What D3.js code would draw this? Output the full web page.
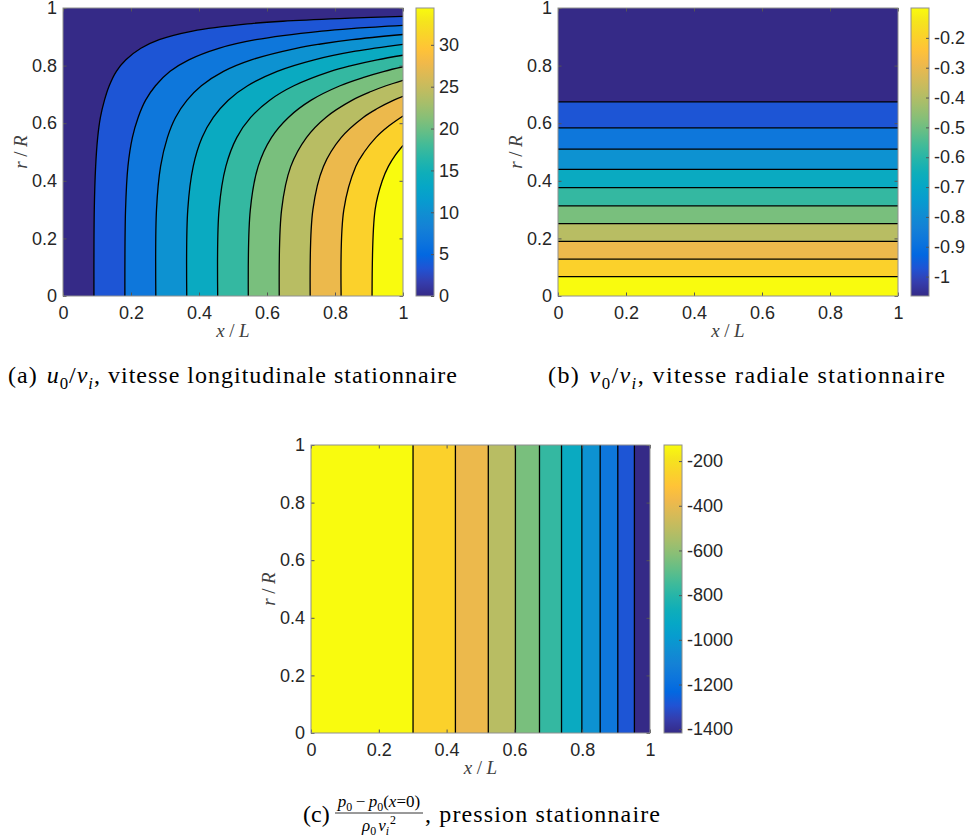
<!DOCTYPE html>
<html>
<head>
<meta charset="utf-8">
<script src="https://cdnjs.cloudflare.com/ajax/libs/d3/7.8.5/d3.min.js"></script>
<style>
body { margin: 0; background: #fff; }
svg { display: block; }
.ax .tick text { font-family: "Liberation Sans", Arial, Helvetica, sans-serif; font-size: 18px; fill: #262626; }
.ax .tick line { stroke: #555; stroke-width: 1; }
.axlabel { font-family: "Liberation Serif", "Times New Roman", serif; font-size: 19px; fill: #404040; }
.caption { font-family: "Liberation Serif", "Times New Roman", serif; font-size: 24px; fill: #000; }
</style>
</head>
<body>
<svg id="fig" width="965" height="840"></svg>
<script>

// ticks shared by the three panels
var xTicks = [0, 0.2, 0.4, 0.6, 0.8, 1];
var rTicks = [0, 0.2, 0.4, 0.6, 0.8, 1];

// (a) u0/vi : iso-lines as [x/L, r/R], lowest level first
var uIsoLines = [
	[[0.091,0],[0.092,0.3],[0.096,0.45],[0.102,0.55],[0.110,0.62],[0.122,0.68],[0.136,0.73],[0.157,0.78],[0.185,0.82],[0.229,0.86],[0.283,0.89],[0.381,0.92],[0.543,0.945],[0.660,0.955],[0.844,0.965],[1,0.971]],
	[[0.182,0],[0.184,0.3],[0.191,0.45],[0.204,0.55],[0.221,0.62],[0.243,0.68],[0.272,0.73],[0.315,0.78],[0.370,0.82],[0.458,0.86],[0.567,0.89],[0.761,0.92],[0.863,0.93],[1,0.940]],
	[[0.273,0],[0.275,0.3],[0.287,0.45],[0.307,0.55],[0.331,0.62],[0.365,0.68],[0.407,0.73],[0.472,0.78],[0.554,0.82],[0.686,0.86],[0.758,0.875],[0.850,0.89],[1,0.908]],
	[[0.364,0],[0.367,0.3],[0.383,0.45],[0.409,0.55],[0.442,0.62],[0.486,0.68],[0.543,0.73],[0.630,0.78],[0.739,0.82],[0.860,0.85],[1,0.874]],
	[[0.455,0],[0.459,0.3],[0.479,0.45],[0.511,0.55],[0.552,0.62],[0.608,0.68],[0.679,0.73],[0.787,0.78],[0.848,0.80],[0.924,0.82],[1,0.836]],
	[[0.545,0],[0.551,0.3],[0.574,0.45],[0.613,0.55],[0.663,0.62],[0.730,0.68],[0.815,0.73],[0.887,0.76],[0.945,0.78],[1,0.796]],
	[[0.636,0],[0.643,0.3],[0.670,0.45],[0.716,0.55],[0.773,0.62],[0.851,0.68],[0.906,0.71],[0.950,0.73],[1,0.749]],
	[[0.727,0],[0.735,0.3],[0.766,0.45],[0.818,0.55],[0.883,0.62],[0.923,0.65],[0.973,0.68],[1,0.693]],
	[[0.818,0],[0.826,0.3],[0.861,0.45],[0.886,0.5],[0.920,0.55],[0.958,0.59],[1,0.625]],
	[[0.909,0],[0.918,0.3],[0.939,0.4],[0.957,0.45],[0.978,0.49],[1,0.523]]
];
var uRange = [0, 34.4];
var uBarTicks = [0, 5, 10, 15, 20, 25, 30];

// (b) v0/vi : iso-lines are horizontal, r/R of each, from the top down
var vIsoR = [0.674, 0.584, 0.510, 0.440, 0.376, 0.313, 0.251, 0.190, 0.128, 0.067];
var vRange = [-1.065, -0.10];
var vBarTicks = [-1, -0.9, -0.8, -0.7, -0.6, -0.5, -0.4, -0.3, -0.2];

// (c) pressure : iso-lines are vertical, x/L of each, left to right
var pIsoX = [0.301, 0.426, 0.523, 0.603, 0.674, 0.739, 0.799, 0.853, 0.905, 0.954];
var pRange = [-1417, -128];
var pBarTicks = [-1400, -1200, -1000, -800, -600, -400, -200];

// parula colormap, [t, r, g, b]
var parulaStops = [
	[0/63, 0.2081,0.1663,0.5292], [3/63, 0.2081,0.2386,0.6771], [6/63, 0.1253,0.3242,0.8303],
	[9/63, 0.0060,0.4086,0.8828], [12/63, 0.0498,0.4586,0.8641], [15/63, 0.0779,0.5040,0.8384],
	[18/63, 0.0641,0.5570,0.8240], [21/63, 0.0265,0.6137,0.8135], [24/63, 0.0228,0.6535,0.7768],
	[27/63, 0.0590,0.6838,0.7254], [30/63, 0.1453,0.7098,0.6646], [33/63, 0.2586,0.7317,0.5954],
	[36/63, 0.3953,0.7459,0.5244], [39/63, 0.5300,0.7491,0.4661], [42/63, 0.6473,0.7456,0.4188],
	[45/63, 0.7525,0.7384,0.3768], [48/63, 0.8507,0.7299,0.3360], [51/63, 0.9450,0.7261,0.2886],
	[54/63, 0.9990,0.7653,0.2164], [57/63, 0.9789,0.8271,0.1633], [60/63, 0.9589,0.8949,0.1132],
	[63/63, 0.9763,0.9831,0.0538]
];


var FIG = (function(FIG, d3, undefined)
{
	var svg = d3.select("#fig");
	var defs = svg.append("defs");
	var frameColor = "#909090";

	FIG.parula = d3.scaleLinear()
		.domain(parulaStops.map(function(s) { return s[0] }))
		.range(parulaStops.map(function(s) { return d3.rgb(s[1]*255, s[2]*255, s[3]*255).toString() }))
		.interpolate(d3.interpolateRgb);


	FIG.init = function()
	{
		FIG.panelA({x: 63, y: 8, w: 340, h: 288}, 416);
		FIG.panelB({x: 558, y: 8, w: 340, h: 288}, 911);
		FIG.panelC({x: 311, y: 445, w: 339, h: 288}, 664);
		FIG.captions();
	}


	FIG.makeFrame = function(box, id)
	{
		var x = d3.scaleLinear().domain([0, 1]).range([box.x, box.x + box.w]);
		var y = d3.scaleLinear().domain([0, 1]).range([box.y + box.h, box.y]);

		defs.append("clipPath")
		.attr("id", id)
		.append("rect")
		.attr("x", box.x)
		.attr("y", box.y)
		.attr("width", box.w)
		.attr("height", box.h);

		var plot = svg.append("g")
		.attr("clip-path", "url(#" + id + ")");

		return {x: x, y: y, plot: plot};
	}


	FIG.drawAxes = function(box, f)
	{
		svg.append("g")
		.attr("class", "ax")
		.attr("transform", "translate(0," + (box.y + box.h) + ")")
		.call(d3.axisBottom(f.x).tickValues(xTicks).tickFormat(String)
			.tickSizeInner(-3.5).tickSizeOuter(0).tickPadding(10));

		svg.append("g")
		.attr("class", "ax")
		.attr("transform", "translate(0," + box.y + ")")
		.call(d3.axisTop(f.x).tickValues(xTicks).tickFormat("")
			.tickSizeInner(-3.5).tickSizeOuter(0));

		svg.append("g")
		.attr("class", "ax")
		.attr("transform", "translate(" + box.x + ",0)")
		.call(d3.axisLeft(f.y).tickValues(rTicks).tickFormat(String)
			.tickSizeInner(-3.5).tickSizeOuter(0).tickPadding(6));

		svg.append("g")
		.attr("class", "ax")
		.attr("transform", "translate(" + (box.x + box.w) + ",0)")
		.call(d3.axisRight(f.y).tickValues(rTicks).tickFormat("")
			.tickSizeInner(-3.5).tickSizeOuter(0));

		svg.selectAll(".ax .domain").remove();

		svg.append("rect")
		.attr("x", box.x)
		.attr("y", box.y)
		.attr("width", box.w)
		.attr("height", box.h)
		.attr("fill", "none")
		.attr("stroke", frameColor)
		.attr("stroke-width", 1);

		// x/L
		var xl = svg.append("text")
		.attr("class", "axlabel")
		.attr("x", box.x + box.w / 2)
		.attr("y", box.y + box.h + 41)
		.attr("text-anchor", "middle");
		xl.append("tspan").attr("font-style", "italic").text("x");
		xl.append("tspan").attr("dx", 4.5).text("/");
		xl.append("tspan").attr("dx", 4.5).attr("font-style", "italic").text("L");

		// r/R
		var lx = box.x - 36, ly = box.y + box.h / 2;
		var rl = svg.append("text")
		.attr("class", "axlabel")
		.attr("x", lx)
		.attr("y", ly)
		.attr("text-anchor", "middle")
		.attr("transform", "rotate(-90," + lx + "," + ly + ")");
		rl.append("tspan").attr("font-style", "italic").text("r");
		rl.append("tspan").attr("dx", 4.5).text("/");
		rl.append("tspan").attr("dx", 4.5).attr("font-style", "italic").text("R");
	}


	FIG.makeColorbar = function(box, cx, range, ticks, gid)
	{
		var grad = defs.append("linearGradient")
		.attr("id", gid)
		.attr("x1", 0).attr("y1", 1)
		.attr("x2", 0).attr("y2", 0);

		parulaStops.forEach(function(s)
		{
			grad.append("stop")
			.attr("offset", s[0])
			.attr("stop-color", FIG.parula(s[0]));
		})

		svg.append("rect")
		.attr("x", cx)
		.attr("y", box.y)
		.attr("width", 18)
		.attr("height", box.h)
		.attr("fill", "url(#" + gid + ")")
		.attr("stroke", frameColor)
		.attr("stroke-width", 1);

		var scale = d3.scaleLinear().domain(range).range([box.y + box.h, box.y]);

		svg.append("g")
		.attr("class", "ax")
		.attr("transform", "translate(" + (cx + 18) + ",0)")
		.call(d3.axisRight(scale).tickValues(ticks).tickFormat(String)
			.tickSizeInner(-3).tickSizeOuter(0).tickPadding(5));

		svg.selectAll(".ax .domain").remove();
	}


	FIG.panelA = function(box, cx)
	{
		var f = FIG.makeFrame(box, "clipA");

		var line = d3.line()
		.x(function(d) { return f.x(d[0]) })
		.y(function(d) { return f.y(d[1]) })
		.curve(d3.curveCatmullRom.alpha(0.5));

		f.plot.append("rect")
		.attr("x", box.x)
		.attr("y", box.y)
		.attr("width", box.w)
		.attr("height", box.h)
		.attr("fill", FIG.parula(0));

		// each level fills everything to its right, higher levels painted over
		var n = uIsoLines.length;
		f.plot.selectAll("path.band")
		.data(uIsoLines)
		.enter()
		.append("path")
		.attr("class", "band")
		.attr("d", function(d) { return line(d) + "L" + f.x(1) + "," + f.y(0) + "Z" })
		.attr("fill", function(d, i) { return FIG.parula((i + 1) / n) });

		f.plot.selectAll("path.iso")
		.data(uIsoLines)
		.enter()
		.append("path")
		.attr("class", "iso")
		.attr("d", line)
		.attr("fill", "none")
		.attr("stroke", "#000")
		.attr("stroke-width", 1.3);

		FIG.drawAxes(box, f);
		FIG.makeColorbar(box, cx, uRange, uBarTicks, "gradA");
	}


	FIG.panelB = function(box, cx)
	{
		var f = FIG.makeFrame(box, "clipB");
		var n = vIsoR.length;

		f.plot.append("rect")
		.attr("x", box.x)
		.attr("y", box.y)
		.attr("width", box.w)
		.attr("height", box.h)
		.attr("fill", FIG.parula(0));

		f.plot.selectAll("rect.band")
		.data(vIsoR)
		.enter()
		.append("rect")
		.attr("class", "band")
		.attr("x", f.x(0))
		.attr("y", function(d) { return f.y(d) })
		.attr("width", f.x(1) - f.x(0))
		.attr("height", function(d) { return f.y(0) - f.y(d) })
		.attr("fill", function(d, i) { return FIG.parula((i + 1) / n) });

		f.plot.selectAll("line.iso")
		.data(vIsoR)
		.enter()
		.append("line")
		.attr("class", "iso")
		.attr("x1", f.x(0))
		.attr("x2", f.x(1))
		.attr("y1", function(d) { return f.y(d) })
		.attr("y2", function(d) { return f.y(d) })
		.attr("stroke", "#000")
		.attr("stroke-width", 1.3);

		FIG.drawAxes(box, f);
		FIG.makeColorbar(box, cx, vRange, vBarTicks, "gradB");
	}


	FIG.panelC = function(box, cx)
	{
		var f = FIG.makeFrame(box, "clipC");
		var n = pIsoX.length;

		f.plot.append("rect")
		.attr("x", box.x)
		.attr("y", box.y)
		.attr("width", box.w)
		.attr("height", box.h)
		.attr("fill", FIG.parula(1));

		f.plot.selectAll("rect.band")
		.data(pIsoX)
		.enter()
		.append("rect")
		.attr("class", "band")
		.attr("x", function(d) { return f.x(d) })
		.attr("y", f.y(1))
		.attr("width", function(d) { return f.x(1) - f.x(d) })
		.attr("height", f.y(0) - f.y(1))
		.attr("fill", function(d, i) { return FIG.parula(1 - (i + 1) / n) });

		f.plot.selectAll("line.iso")
		.data(pIsoX)
		.enter()
		.append("line")
		.attr("class", "iso")
		.attr("y1", f.y(0))
		.attr("y2", f.y(1))
		.attr("x1", function(d) { return f.x(d) })
		.attr("x2", function(d) { return f.x(d) })
		.attr("stroke", "#000")
		.attr("stroke-width", 1.3);

		FIG.drawAxes(box, f);
		FIG.makeColorbar(box, cx, pRange, pBarTicks, "gradC");
	}


	// parts: [text, kind, dx] ; kind "", "i" italic, "sub", "subi", "sup"
	FIG.addParts = function(text, parts, size)
	{
		var shift = 0;
		parts.forEach(function(p)
		{
			var target = 0, fs = size, italic = false;
			if (p[1] == "i" || p[1] == "subi") italic = true;
			if (p[1] == "sub" || p[1] == "subi") { target = size * 0.25; fs = size * 0.7; }
			if (p[1] == "sup") { target = -size * 0.4; fs = size * 0.7; }

			var t = text.append("tspan")
			.attr("font-size", fs)
			.attr("dy", target - shift)
			.text(p[0]);

			if (italic) t.attr("font-style", "italic");
			if (p[2]) t.attr("dx", p[2]);
			shift = target;
		})
	}


	FIG.captions = function()
	{
		var a = svg.append("text")
		.attr("class", "caption")
		.attr("x", 8)
		.attr("y", 383)
		.attr("textLength", 449)
		.attr("lengthAdjust", "spacing");
		FIG.addParts(a, [["(a) ", ""], ["u", "i", 2], ["0", "sub"], ["/", ""], ["v", "i"], ["i", "subi"],
			[", vitesse longitudinale stationnaire", ""]], 24);

		var b = svg.append("text")
		.attr("class", "caption")
		.attr("x", 548)
		.attr("y", 383)
		.attr("textLength", 397)
		.attr("lengthAdjust", "spacing");
		FIG.addParts(b, [["(b) ", ""], ["v", "i", 2], ["0", "sub"], ["/", ""], ["v", "i"], ["i", "subi"],
			[", vitesse radiale stationnaire", ""]], 24);

		// (c) with a stacked fraction
		svg.append("text")
		.attr("class", "caption")
		.attr("x", 303)
		.attr("y", 822)
		.text("(c)");

		var num = svg.append("text")
		.attr("class", "caption")
		.attr("x", 379)
		.attr("y", 807)
		.attr("text-anchor", "middle");
		FIG.addParts(num, [["p", "i"], ["0", "sub"], ["\u2009\u2212\u2009", ""], ["p", "i"], ["0", "sub"],
			["(", ""], ["x", "i"], ["=0)", ""]], 17);

		svg.append("line")
		.attr("x1", 335)
		.attr("x2", 423)
		.attr("y1", 813)
		.attr("y2", 813)
		.attr("stroke", "#000")
		.attr("stroke-width", 0.8);

		var den = svg.append("text")
		.attr("class", "caption")
		.attr("x", 379)
		.attr("y", 831)
		.attr("text-anchor", "middle");
		FIG.addParts(den, [["\u03c1", "i"], ["0", "sub"], ["v", "i", 2], ["i", "subi"], ["2", "sup", 1]], 17);

		svg.append("text")
		.attr("class", "caption")
		.attr("x", 425)
		.attr("y", 822)
		.attr("textLength", 235)
		.attr("lengthAdjust", "spacing")
		.text(", pression stationnaire");
	}


	return FIG;

}(FIG || {}, d3));


FIG.init();

</script>
</body>
</html>
